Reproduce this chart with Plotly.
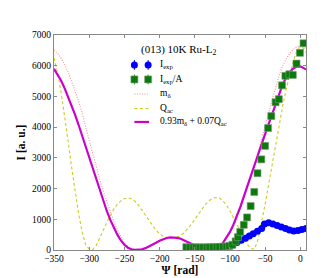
import plotly.graph_objects as go

# ---------------- data ----------------
psi_curve = [-350, -345, -340, -335, -330, -325, -320, -315, -310, -305, -300, -295, -290, -285,
             -280, -275, -270, -265, -260, -255, -250, -245, -240, -235, -230, -225, -220, -215,
             -210, -205, -200, -195, -190, -185, -180, -175, -170, -165, -160, -155, -150, -145,
             -140, -135, -130, -125, -120, -115, -110, -105, -100, -95, -90, -85, -80, -75, -70,
             -65, -60, -55, -50, -45, -40, -35, -30, -25, -20, -15, -10, -5, 0, 5, 8]

m_delta = [6500, 6400, 6250, 6050, 5800, 5500, 5170, 4830, 4460, 4000, 3550, 3120, 2700, 2300,
           1920, 1560, 1220, 920, 650, 420, 240, 110, 35, 5, 5, 25, 60, 110,
           170, 235, 300, 355, 390, 410, 410, 395, 365, 320, 265, 205, 150, 95,
           50, 20, 5, 10, 40, 100, 210, 370, 560, 790, 1050, 1360, 1700, 2050, 2420,
           2800, 3200, 3600, 4020, 4460, 4900, 5320, 5700, 6000, 6230, 6400, 6530, 6620, 6650, 6610, 6560]

q_ac = [6250, 5780, 5150, 4420, 3550, 2700, 1900, 1180, 580, 170, 30, 15, 150, 380,
        640, 900, 1130, 1330, 1490, 1600, 1670, 1700, 1670, 1590, 1460, 1300, 1120, 940,
        780, 640, 530, 450, 410, 395, 400, 420, 470, 560, 680, 830, 1000, 1170,
        1330, 1480, 1600, 1680, 1710, 1690, 1600, 1460, 1270, 1050, 810, 570, 350, 170, 50,
        30, 350, 900, 1500, 2150, 2800, 3400, 4050, 4700, 5250, 5750, 6150, 6480, 6640, 6560, 6430]

mix = [5900, 5730, 5520, 5270, 5000, 4710, 4400, 4070, 3720, 3360, 2980, 2610, 2250, 1900,
       1580, 1270, 980, 720, 500, 310, 170, 75, 25, 5, 5, 25, 60, 110,
       170, 235, 300, 355, 390, 410, 410, 395, 365, 320, 265, 205, 150, 95,
       50, 20, 5, 10, 40, 110, 230, 390, 590, 830, 1100, 1420, 1760, 2110, 2460,
       2800, 3120, 3450, 3780, 4110, 4450, 4780, 5100, 5400, 5630, 5800, 5910, 5970, 5980, 5930, 5880]

psi_exp = [-103, -96, -90, -84, -78, -72.5, -67, -61, -55, -51, -45, -39, -33, -27, -21,
           -15.5, -9.5, -3.5, 2, 8]
i_exp = [90, 165, 245, 320, 385, 455, 530, 610, 700, 850, 890, 850, 800, 745, 700,
         655, 615, 635, 665, 700]

psi_expA = [-162, -157, -152, -148, -143, -138, -133, -129, -124, -119, -115, -110, -105, -101,
            -96.6, -92, -88.7, -85.5, -80.4, -75.7, -70.6, -65.5, -60.9, -55.5, -50.1, -45.9,
            -41.3, -35.2, -30.6, -26, -21.3, -15.7, -10.7, -5.5, -0.6, 4.5]
i_expA = [90, 90, 85, 85, 85, 85, 85, 90, 90, 95, 100, 105, 115, 130,
          170, 280, 420, 590, 820, 1060, 1430, 1890, 2500, 2950, 3390, 3970,
          4360, 4810, 4910, 5360, 5670, 5720, 5700, 6070, 6420, 6730]

x_ticks = [-350, -300, -250, -200, -150, -100, -50, 0]
y_ticks = [0, 1000, 2000, 3000, 4000, 5000, 6000, 7000]

legend_title = "(013) 10K Ru-L<sub>2</sub>"
legend_labels = ["I<sub>exp</sub>", "I<sub>exp</sub>/A", "m<sub>δ</sub>", "Q<sub>ac</sub>",
                 "0.93m<sub>δ</sub> + 0.07Q<sub>ac</sub>"]

# ---------------- style ----------------
FONT = "Liberation Serif"
C_BLUE = "#0000ff"
C_GREEN = "#0a7a0a"
C_PINK = "#f59090"
C_YEL = "#cccc1a"
C_MAG = "#cc00cc"
AX = "#888888"

fig = go.Figure()

fig.add_trace(go.Scatter(x=psi_curve, y=m_delta, mode="lines", line=dict(color=C_PINK, width=1.1, dash="1px,1.5px")))
fig.add_trace(go.Scatter(x=psi_curve, y=q_ac, mode="lines", line=dict(color=C_YEL, width=1.1, dash="3px,2.5px")))
fig.add_trace(go.Scatter(x=psi_curve, y=mix, mode="lines", line=dict(color=C_MAG, width=2.2)))
fig.add_trace(go.Scatter(x=psi_exp, y=i_exp, mode="markers",
                         marker=dict(symbol="circle", size=7, color=C_BLUE, line=dict(width=0))))
fig.add_trace(go.Scatter(x=psi_expA, y=i_expA, mode="markers",
                         marker=dict(symbol="square", size=7, color=C_GREEN, line=dict(width=0.6, color="#7a9a7a"))))

# ---- manual legend in pixel-like overlay coordinates ----
L_X0, L_X1 = 123, 137
rows = [58, 73, 88, 103, 117]
# marker samples
fig.add_trace(go.Scatter(x=[L_X0, L_X1], y=[rows[0]] * 2, xaxis="x2", yaxis="y2", mode="markers",
                         marker=dict(symbol="circle", size=7, color=C_BLUE),
                         error_y=dict(type="constant", value=5, color=C_BLUE, thickness=1, width=0)))
fig.add_trace(go.Scatter(x=[L_X0, L_X1], y=[rows[1]] * 2, xaxis="x2", yaxis="y2", mode="markers",
                         marker=dict(symbol="square", size=7, color=C_GREEN, line=dict(width=0.6, color="#7a9a7a")),
                         error_y=dict(type="constant", value=5, color=C_GREEN, thickness=1, width=0)))
fig.add_trace(go.Scatter(x=[L_X0, L_X1 + 1], y=[rows[2]] * 2, xaxis="x2", yaxis="y2", mode="lines",
                         line=dict(color=C_PINK, width=1.1, dash="1px,1.5px")))
fig.add_trace(go.Scatter(x=[L_X0, L_X1 + 1], y=[rows[3]] * 2, xaxis="x2", yaxis="y2", mode="lines",
                         line=dict(color=C_YEL, width=1.1, dash="3px,2.5px")))
fig.add_trace(go.Scatter(x=[L_X0, L_X1 + 1], y=[rows[4]] * 2, xaxis="x2", yaxis="y2", mode="lines",
                         line=dict(color=C_MAG, width=2.2)))

annotations = [dict(x=128, y=43, xref="x2", yref="y2", text=legend_title, showarrow=False,
                    xanchor="left", yanchor="middle", font=dict(family=FONT, size=11, color="black"))]
for lab, ry in zip(legend_labels, rows):
    annotations.append(dict(x=147, y=ry, xref="x2", yref="y2", text=lab, showarrow=False,
                            xanchor="left", yanchor="middle", font=dict(family=FONT, size=9.5, color="black")))

axis_common = dict(showline=True, linecolor=AX, linewidth=1, mirror="allticks", ticks="inside",
                   ticklen=3, tickcolor=AX, showgrid=False, zeroline=False,
                   tickfont=dict(family=FONT, size=9.5, color="black"))

fig.update_layout(
    width=332, height=278,
    margin=dict(l=41, r=34, t=27, b=28.5),
    paper_bgcolor="white", plot_bgcolor="white",
    showlegend=False,
    xaxis=dict(range=[-350, 8], tickvals=x_ticks, ticktext=[str(v).replace("-", "−") for v in x_ticks],
               title=dict(text="<b>Ψ [rad]</b>", font=dict(family=FONT, size=11.5, color="black"), standoff=2),
               **axis_common),
    yaxis=dict(range=[0, 7000], tickvals=y_ticks, ticktext=[str(v) for v in y_ticks],
               title=dict(text="<b>I [a. u.]</b>", font=dict(family=FONT, size=11.5, color="black"), standoff=4),
               **axis_common),
    xaxis2=dict(overlaying="x", range=[41, 298], visible=False, fixedrange=True),
    yaxis2=dict(overlaying="y", range=[249.5, 27], visible=False, fixedrange=True),
    annotations=annotations,
)

fig.write_html("out.html")
